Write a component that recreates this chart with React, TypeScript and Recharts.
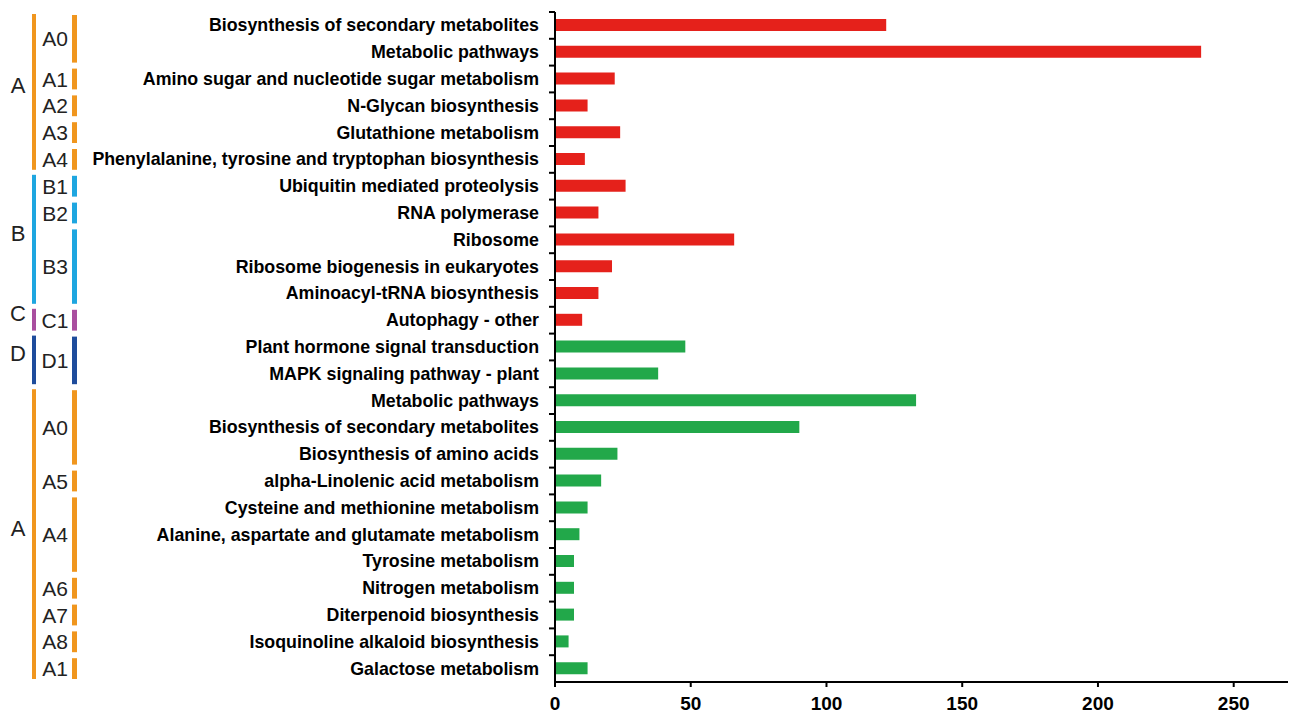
import { BarChart, Bar, XAxis, YAxis, Cell } from 'recharts';

// KEGG pathways, top to bottom
const pathways = [
  'Biosynthesis of secondary metabolites',
  'Metabolic pathways',
  'Amino sugar and nucleotide sugar metabolism',
  'N-Glycan biosynthesis',
  'Glutathione metabolism',
  'Phenylalanine, tyrosine and tryptophan biosynthesis',
  'Ubiquitin mediated proteolysis',
  'RNA polymerase',
  'Ribosome',
  'Ribosome biogenesis in eukaryotes',
  'Aminoacyl-tRNA biosynthesis',
  'Autophagy - other',
  'Plant hormone signal transduction',
  'MAPK signaling pathway - plant',
  'Metabolic pathways',
  'Biosynthesis of secondary metabolites',
  'Biosynthesis of amino acids',
  'alpha-Linolenic acid metabolism',
  'Cysteine and methionine metabolism',
  'Alanine, aspartate and glutamate metabolism',
  'Tyrosine metabolism',
  'Nitrogen metabolism',
  'Diterpenoid biosynthesis',
  'Isoquinoline alkaloid biosynthesis',
  'Galactose metabolism',
];

const geneCounts = [122, 238, 22, 12, 24, 11, 26, 16, 66, 21, 16, 10, 48, 38, 133, 90, 23, 17, 12, 9, 7, 7, 7, 5, 12];

// 'up' = red, 'down' = green
const direction = [
  'up', 'up', 'up', 'up', 'up', 'up', 'up', 'up', 'up', 'up', 'up', 'up',
  'down', 'down', 'down', 'down', 'down', 'down', 'down', 'down', 'down', 'down', 'down', 'down', 'down',
];

const xTicks = [0, 50, 100, 150, 200, 250];

// classification brackets on the left: [label, colour key, first row, last row]
const groups: [string, string, number, number][] = [
  ['A', 'A', 0, 5],
  ['B', 'B', 6, 10],
  ['C', 'C', 11, 11],
  ['D', 'D', 12, 13],
  ['A', 'A', 14, 24],
];

const subGroups: [string, string, number, number][] = [
  ['A0', 'A', 0, 1],
  ['A1', 'A', 2, 2],
  ['A2', 'A', 3, 3],
  ['A3', 'A', 4, 4],
  ['A4', 'A', 5, 5],
  ['B1', 'B', 6, 6],
  ['B2', 'B', 7, 7],
  ['B3', 'B', 8, 10],
  ['C1', 'C', 11, 11],
  ['D1', 'D', 12, 13],
  ['A0', 'A', 14, 16],
  ['A5', 'A', 17, 17],
  ['A4', 'A', 18, 20],
  ['A6', 'A', 21, 21],
  ['A7', 'A', 22, 22],
  ['A8', 'A', 23, 23],
  ['A1', 'A', 24, 24],
];

const groupColors: Record<string, string> = {
  A: '#F0961E',
  B: '#1EA6E0',
  C: '#A94E9F',
  D: '#1E4C9C',
};

const barColors: Record<string, string> = { up: '#E5211B', down: '#22A84A' };

const W = 1291;
const H = 713;
const TOP = 12;
const X_AXIS_H = 31;
const AXIS_X = 555;
const ROW_H = (H - X_AXIS_H - TOP) / pathways.length;

const data = pathways.map((name, i) => ({ name, value: geneCounts[i], dir: direction[i] }));

const font = 'Arial, "Liberation Sans", Helvetica, sans-serif';

const CategoryTick = (props: any) => {
  const { y, payload } = props;
  const half = ROW_H / 2;
  return (
    <g>
      <line x1={AXIS_X - 6} x2={AXIS_X} y1={y - half} y2={y - half} stroke="#000" strokeWidth={2} />
      <text
        x={AXIS_X - 16}
        y={y}
        textAnchor="end"
        dominantBaseline="central"
        fontFamily={font}
        fontWeight="bold"
        fontSize={17.8}
        fill="#000"
      >
        {payload.value}
      </text>
    </g>
  );
};

const rowTop = (r: number) => TOP + r * ROW_H;

function Annotations() {
  return (
    <svg width={100} height={H} style={{ position: 'absolute', left: 0, top: 0 }}>
      {groups.map(([label, key, a, b], i) => {
        const y1 = rowTop(a) + 2;
        const y2 = rowTop(b + 1) - 3;
        return (
          <g key={'g' + i}>
            <rect x={32} y={y1} width={4} height={y2 - y1} fill={groupColors[key]} />
            <text
              x={18}
              y={(y1 + y2) / 2 - 6}
              textAnchor="middle"
              dominantBaseline="central"
              fontFamily={font}
              fontSize={22}
              fill="#222"
            >
              {label}
            </text>
          </g>
        );
      })}
      {subGroups.map(([label, key, a, b], i) => {
        const y1 = rowTop(a) + 3;
        const y2 = rowTop(b + 1) - 3;
        return (
          <g key={'s' + i}>
            <rect x={72} y={y1} width={5} height={y2 - y1} fill={groupColors[key]} />
            <text
              x={55}
              y={(y1 + y2) / 2}
              textAnchor="middle"
              dominantBaseline="central"
              fontFamily={font}
              fontSize={21}
              fill="#222"
            >
              {label}
            </text>
          </g>
        );
      })}
    </svg>
  );
}

export default function App() {
  return (
    <div style={{ position: 'absolute', left: 0, top: 0, width: W, height: H, background: '#fff' }}>
      <BarChart
        width={W}
        height={H}
        data={data}
        layout="vertical"
        margin={{ top: TOP, right: 3, bottom: 0, left: 0 }}
      >
        <XAxis
          type="number"
          domain={[0, 270]}
          ticks={xTicks}
          allowDataOverflow
          height={X_AXIS_H}
          axisLine={{ stroke: '#000', strokeWidth: 2 }}
          tickLine={{ stroke: '#000', strokeWidth: 2 }}
          tickSize={5}
          tickMargin={10}
          tick={{ fill: '#000', fontSize: 19, fontWeight: 'bold', fontFamily: font }}
        />
        <YAxis
          type="category"
          dataKey="name"
          width={AXIS_X}
          interval={0}
          axisLine={{ stroke: '#000', strokeWidth: 2 }}
          tickLine={false}
          tick={<CategoryTick />}
        />
        <Bar dataKey="value" barSize={12} isAnimationActive={false}>
          {data.map((d, i) => (
            <Cell key={i} fill={barColors[d.dir]} />
          ))}
        </Bar>
      </BarChart>
      <Annotations />
    </div>
  );
}
